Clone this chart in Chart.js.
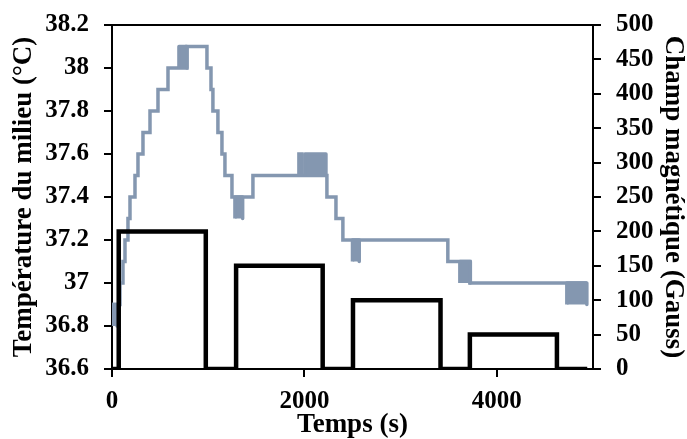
<!DOCTYPE html>
<html>
<head>
<meta charset="utf-8">
<script src="https://cdn.jsdelivr.net/npm/chart.js@4.4.1/dist/chart.umd.min.js"></script>
<style>
html,body{margin:0;padding:0;background:#fff;}
#wrap{width:687px;height:439px;}
</style>
</head>
<body>
<div id="wrap"><canvas id="c" width="687" height="439"></canvas></div>
<script>
// ---- Data ----
// Magnetic field (Gauss), step changes: time (s) -> value held until next time
const fieldTimes  = [0, 70, 975, 1290, 2190, 2505, 3415, 3720, 4625, 4940];
const fieldValues = [0, 200, 0, 150, 0, 100, 0, 50, 0, 0];

// Medium temperature (°C), step changes: time (s) -> value held until next time
const tempTimes  = [0, 83, 114, 135, 166, 187, 239, 270, 322, 395, 478, 582, 779, 987, 1029, 1049, 1101, 1143, 1174, 1247, 1465, 1943, 1974, 2234, 2328, 2400, 3491, 3720, 4936];
const tempValues = [36.9, 37.0, 37.1, 37.2, 37.3, 37.4, 37.5, 37.6, 37.7, 37.8, 37.9, 38.0, 38.1, 38.0, 37.9, 37.8, 37.7, 37.6, 37.5, 37.4, 37.5, 37.6, 37.5, 37.4, 37.3, 37.2, 37.1, 37.0, 37.0];

// Intervals where the temperature reading flickers between two levels
const oscStart = [0, 696, 1278, 2005, 2500, 3616, 4728];
const oscEnd   = [52, 779, 1358, 2224, 2570, 3725, 4936];
const oscLow   = [36.8, 38.0, 37.3, 37.5, 37.1, 37.0, 36.9];
const oscHigh  = [36.9, 38.1, 37.4, 37.6, 37.2, 37.1, 37.0];

// Axis ticks
const timeTicks  = [0, 2000, 4000];
const tempTicks  = [36.6, 36.8, 37.0, 37.2, 37.4, 37.6, 37.8, 38.0, 38.2];
const fieldTicks = [0, 50, 100, 150, 200, 250, 300, 350, 400, 450, 500];

// ---- Chart ----
const GREY = '#8497B0';
const FONT = "'Liberation Serif', 'Times New Roman', serif";

const fieldData = fieldTimes.map((t, i) => ({x: t, y: fieldValues[i]}));
const tempData = tempTimes.map((t, i) => ({x: t, y: tempValues[i]}));

const datasets = [
  {
    label: 'Champ magnétique',
    data: fieldData,
    yAxisID: 'y2',
    stepped: true,
    borderColor: '#000',
    borderWidth: 4.5,
    pointRadius: 0,
    fill: false,
    order: 0
  },
  {
    label: 'Température',
    data: tempData,
    yAxisID: 'y',
    stepped: true,
    borderColor: GREY,
    borderWidth: 3.5,
    pointRadius: 0,
    fill: false,
    order: 2
  }
];
oscStart.forEach((s, i) => {
  datasets.push({
    label: 'osc' + i,
    data: [{x: s, y: oscLow[i]}, {x: s, y: oscHigh[i]}, {x: oscEnd[i], y: oscHigh[i]}, {x: oscEnd[i], y: oscLow[i]}],
    yAxisID: 'y',
    borderColor: GREY,
    backgroundColor: GREY,
    borderWidth: 3.5,
    borderJoinStyle: 'round',
    pointRadius: 0,
    tension: 0,
    fill: {value: oscLow[i]},
    order: 1
  });
});

const frameTop = {
  id: 'frameTop',
  afterDatasetsDraw(chart) {
    const {ctx, chartArea} = chart;
    ctx.save();
    ctx.strokeStyle = '#000';
    ctx.lineWidth = 2;
    ctx.beginPath();
    ctx.moveTo(chartArea.left - 1, chartArea.top);
    ctx.lineTo(chartArea.right + 1, chartArea.top);
    ctx.stroke();
    ctx.restore();
  }
};

const tickFont = {family: FONT, size: 25, weight: 'bold'};
const yTickFont = {family: FONT, size: 25, weight: 'bold', lineHeight: 0.8};
const titleFont = {family: FONT, size: 27, weight: 'bold', lineHeight: 1};

new Chart(document.getElementById('c'), {
  type: 'line',
  data: {datasets},
  options: {
    responsive: false,
    animation: false,
    devicePixelRatio: 1,
    layout: {padding: {top: 20, left: 0, right: 0, bottom: 0}},
    plugins: {legend: {display: false}, tooltip: {enabled: false}},
    scales: {
      x: {
        type: 'linear',
        min: 0, max: 5000,
        afterBuildTicks: s => { s.ticks = timeTicks.map(v => ({value: v})); },
        ticks: {color: '#000', font: tickFont, padding: 10, maxRotation: 0, callback: v => String(v)},
        grid: {display: true, drawOnChartArea: false, drawTicks: true, tickLength: 8, color: '#000', lineWidth: 2},
        border: {display: true, color: '#000', width: 2},
        title: {display: true, text: 'Temps (s)', color: '#000', font: titleFont, padding: {top: 0, bottom: 0}},
        afterFit: s => { s.height = 70; }
      },
      y: {
        position: 'left',
        min: 36.6, max: 38.2,
        afterBuildTicks: s => { s.ticks = tempTicks.map(v => ({value: v})); },
        ticks: {color: '#000', font: yTickFont, padding: 15, callback: v => String(Math.round(v * 10) / 10)},
        grid: {display: true, drawOnChartArea: false, drawTicks: true, tickLength: 8, color: '#000', lineWidth: 2},
        border: {display: true, color: '#000', width: 2},
        title: {display: true, text: 'Température du milieu (°C)', color: '#000', font: titleFont, padding: {top: 11, bottom: 0}},
        afterFit: s => { s.width = 112; }
      },
      y2: {
        position: 'right',
        min: 0, max: 500,
        afterBuildTicks: s => { s.ticks = fieldTicks.map(v => ({value: v})); },
        ticks: {color: '#000', font: yTickFont, padding: 15, callback: v => String(v)},
        grid: {display: true, drawOnChartArea: false, drawTicks: true, tickLength: 8, color: '#000', lineWidth: 2},
        border: {display: true, color: '#000', width: 2},
        title: {display: true, text: 'Champ magnétique (Gauss)', color: '#000', font: titleFont, padding: {top: 1, bottom: 0}},
        afterFit: s => { s.width = 94; }
      }
    }
  },
  plugins: [frameTop]
});
</script>
</body>
</html>
